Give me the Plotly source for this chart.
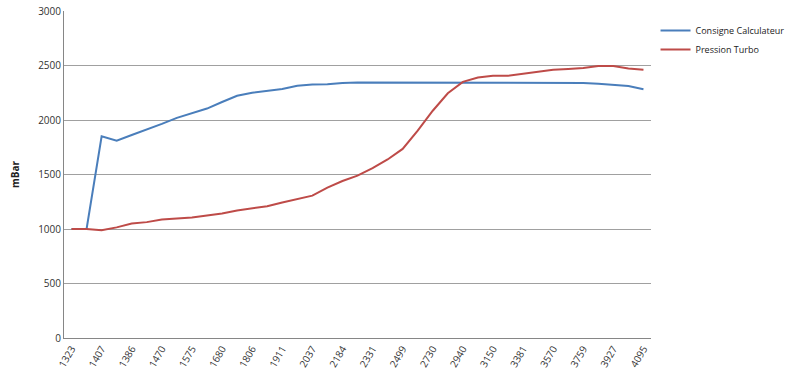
import plotly.graph_objects as go

tick_labels = ["1323", "1407", "1386", "1470", "1575", "1680", "1806", "1911", "2037", "2184",
               "2331", "2499", "2730", "2940", "3150", "3381", "3570", "3759", "3927", "4095"]

consigne = [1000, 1000, 1850, 1810, 1862, 1910, 1965, 2020, 2060, 2105,
            2165, 2222, 2250, 2265, 2285, 2315, 2325, 2328, 2340, 2345,
            2345, 2345, 2345, 2345, 2345, 2345, 2345, 2345, 2345, 2345,
            2345, 2345, 2345, 2343, 2340, 2333, 2323, 2312, 2283]

pression = [1000, 1000, 988, 1015, 1051, 1063, 1088, 1097, 1106, 1124,
            1142, 1170, 1190, 1209, 1243, 1276, 1306, 1380, 1440, 1489,
            1559, 1638, 1735, 1902, 2085, 2245, 2350, 2390, 2405, 2407,
            2425, 2445, 2460, 2468, 2478, 2495, 2495, 2472, 2462]

idx = list(range(len(consigne)))
tick_pos = idx[::2]

fig = go.Figure()
fig.add_trace(go.Scatter(x=idx, y=consigne, mode="lines", name="Consigne Calculateur",
                         line=dict(color="#4A7EBB", width=2)))
fig.add_trace(go.Scatter(x=idx, y=pression, mode="lines", name="Pression Turbo",
                         line=dict(color="#BE4B48", width=2)))

fig.update_layout(
    width=800, height=379,
    margin=dict(l=64, r=148, t=11, b=41),
    paper_bgcolor="white", plot_bgcolor="white",
    font=dict(family="Open Sans, Liberation Sans, sans-serif", size=10, color="#333333"),
    showlegend=True,
    legend=dict(x=1.006, xanchor="left", y=0.985, yanchor="top", bgcolor="rgba(0,0,0,0)",
                font=dict(size=9, color="#222222"), itemwidth=30, tracegroupgap=0),
    xaxis=dict(range=[-0.5, len(idx) - 0.5], tickmode="array", tickvals=tick_pos,
               ticktext=tick_labels, tickangle=-60, showgrid=False, zeroline=False,
               showline=True, linecolor="#868686", linewidth=1, ticks="",
               tickfont=dict(size=10), automargin=False),
    yaxis=dict(range=[0, 3000], dtick=500, showgrid=True, gridcolor="#A0A0A0",
               gridwidth=1, zeroline=False, showline=True, linecolor="#868686",
               linewidth=1, ticks="", tickfont=dict(size=10), automargin=False,
               title=dict(text="<b>mBar</b>", font=dict(size=10, color="#222222"), standoff=16)),
)

fig.write_html("out.html", config={"displayModeBar": False},
               post_script="document.body.style.margin='0';")
